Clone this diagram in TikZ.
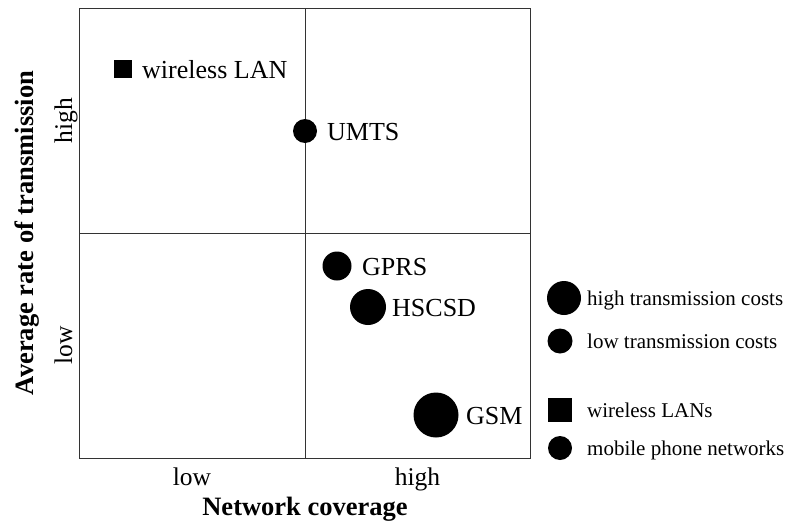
\documentclass[tikz,border=0pt]{standalone}
\usepackage{fontspec}
\setmainfont{Liberation Serif}
\begin{document}
\begin{tikzpicture}[x=1pt,y=-1pt,
  dot/.style={circle,fill=black,inner sep=0pt,minimum size=#1},
  sqr/.style={rectangle,fill=black,inner sep=0pt,minimum size=#1},
  lbl/.style={anchor=base west,inner sep=0pt,font=\fontsize{26}{30}\selectfont},
  leg/.style={anchor=base west,inner sep=0pt,font=\fontsize{21}{25}\selectfont},
  axlbl/.style={anchor=base,inner sep=0pt,font=\fontsize{25.5}{30}\selectfont},
  axtitle/.style={anchor=base,inner sep=0pt,font=\fontsize{26.5}{30}\selectfont\bfseries},
  gridline/.style={draw=black!80,line width=0.9pt}]
\useasboundingbox (0,0) rectangle (787,522);
% frame
\coordinate (tl) at (79,8);
\coordinate (br) at (530,458);
\coordinate (mt) at (305,8);
\coordinate (mb) at (305,458);
\coordinate (ml) at (79,233);
\coordinate (mr) at (530,233);
\draw[gridline] (tl) rectangle (br);
\draw[gridline] (mt) -- (mb);
\draw[gridline] (ml) -- (mr);
% points
\node[sqr=18pt] (wlan) at (122.5,69) {};
\node[lbl] (wlant) at (142,78) {wireless LAN};
\node[dot=24pt] (umts) at (305,131) {};
\node[lbl] (umtst) at (327,140) {UMTS};
\node[dot=29pt] (gprs) at (337,266) {};
\node[lbl] (gprst) at (362,275) {GPRS};
\node[dot=36pt] (hscsd) at (368,307) {};
\node[lbl] (hscsdt) at (392,316) {HSCSD};
\node[dot=45pt] (gsm) at (436,415) {};
\node[lbl] (gsmt) at (466,424) {GSM};
% axes labels
\node[axlbl] (xlow) at (192,485) {low};
\node[axlbl] (xhigh) at (417.5,485) {high};
\node[axtitle] (xtitle) at (305,515) {Network coverage};
\node[axlbl,rotate=90] (yhigh) at (72,120.5) {high};
\node[axlbl,rotate=90] (ylow) at (72,345.5) {low};
\node[axtitle,rotate=90] (ytitle) at (33,233) {Average rate of transmission};
% legend
\node[dot=34pt] (l1) at (564,298) {};
\node[leg] (l1t) at (587,305) {high transmission costs};
\node[dot=25pt] (l2) at (560,341) {};
\node[leg] (l2t) at (587,348) {low transmission costs};
\node[sqr=24pt] (l3) at (560,410) {};
\node[leg] (l3t) at (587,417) {wireless LANs};
\node[dot=24pt] (l4) at (560,448) {};
\node[leg] (l4t) at (587,455) {mobile phone networks};
\end{tikzpicture}
\end{document}
